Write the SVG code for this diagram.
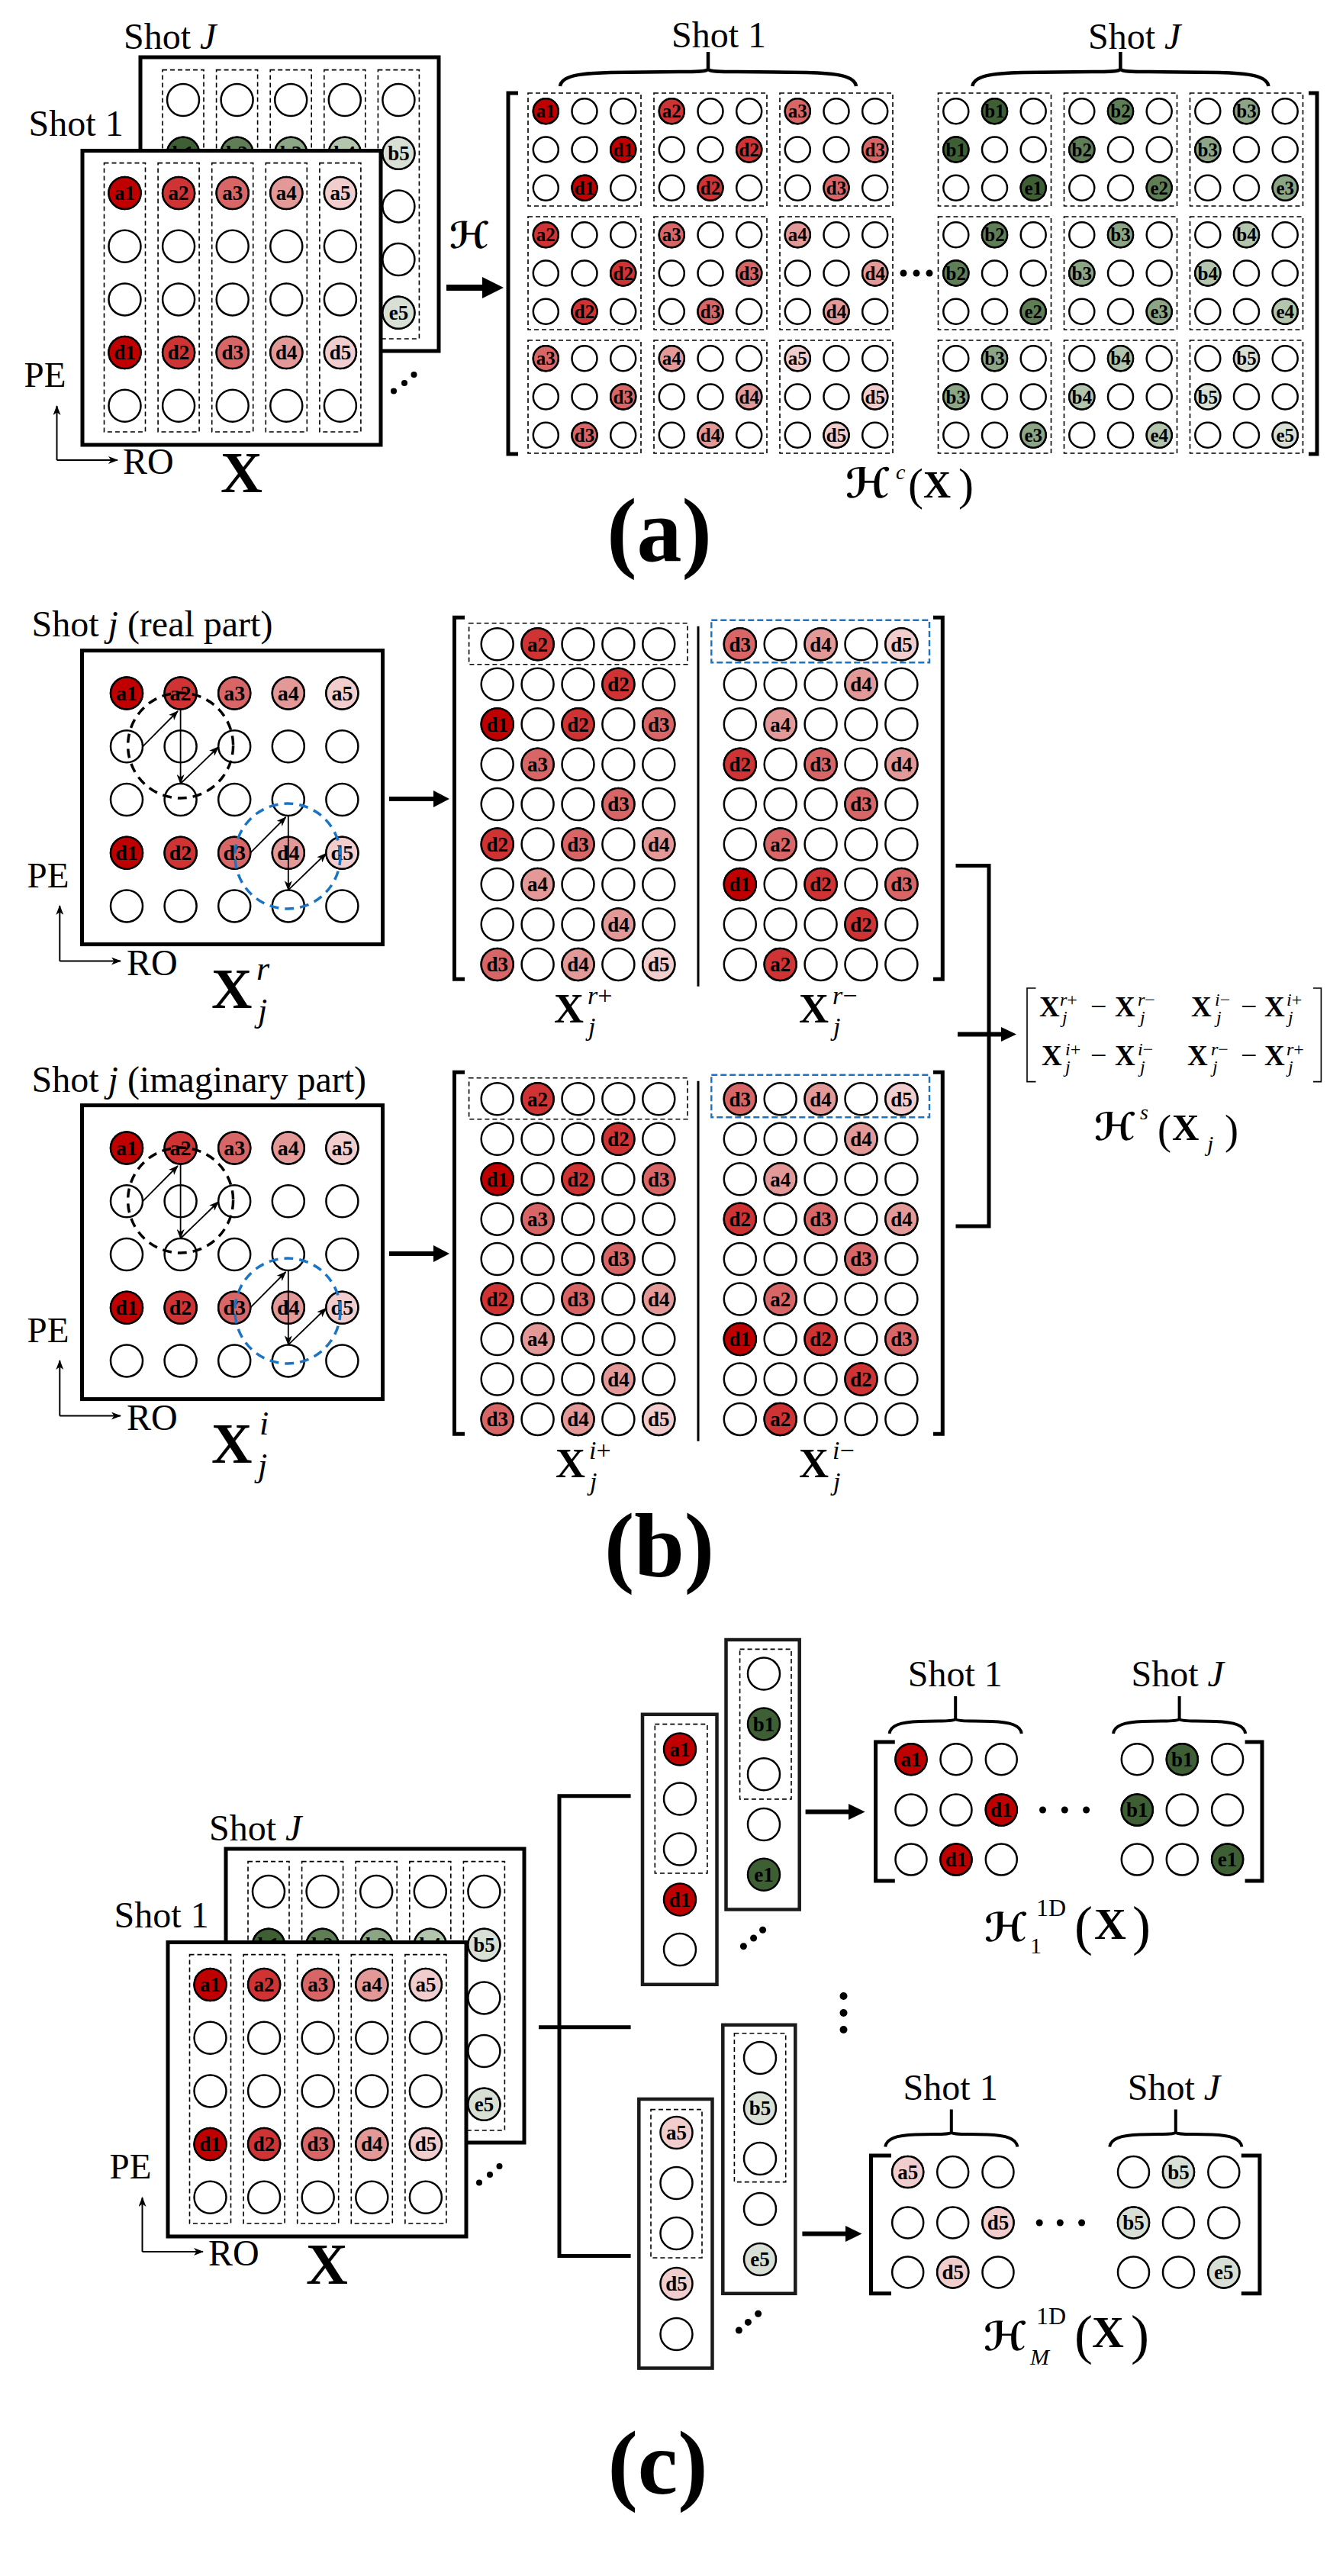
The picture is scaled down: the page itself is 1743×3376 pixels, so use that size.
<svg xmlns="http://www.w3.org/2000/svg" width="1743" height="3376" viewBox="0 0 1743 3376">
<style>
.box{fill:#fff;stroke:#000;stroke-width:5}
.cbox{fill:#fff;stroke:#1a1a1a;stroke-width:4.5}
.dash{fill:none;stroke:#000;stroke-width:1.6;stroke-dasharray:6 4}
.dashb{fill:none;stroke:#1a74c4;stroke-width:2.4;stroke-dasharray:8 4}
.c{fill:#fff;stroke:#000;stroke-width:2.5}
.k1{fill:#c00000}.k2{fill:#cf3333}.k3{fill:#d96666}.k4{fill:#e49999}.k5{fill:#f2cdcd}
.g1{fill:#3e5e33}.g2{fill:#5f7e56}.g3{fill:#8ca584}.g4{fill:#b3c5ac}.g5{fill:#d8dfd4}
.lb{font-family:"Liberation Serif","Times New Roman",serif;font-weight:bold;text-anchor:middle;fill:#000}
.s25{font-size:25px}.s27{font-size:27px}.s28{font-size:28px}
.t{font-family:"Liberation Serif","Times New Roman",serif;fill:#000}
.sh{font-family:"Liberation Serif","Times New Roman",serif;font-size:48px;fill:#000}
.it{font-style:italic}
.bd{font-weight:bold}
.cal{font-family:"DejaVu Serif","DejaVu Sans",serif;font-style:italic;font-weight:bold;fill:#000}
.ln{fill:none;stroke:#000}
.br{fill:none;stroke:#000;stroke-width:5}
.dot{fill:#000}
.pl{font-family:"Liberation Serif","Times New Roman",serif;font-weight:bold;font-size:118px;text-anchor:middle;fill:#000}
</style>
<defs>
<marker id="ah" viewBox="0 0 13 10" refX="12" refY="5" markerWidth="13" markerHeight="10" markerUnits="userSpaceOnUse" orient="auto"><path d="M0,0 L13,5 L0,10 L3.5,5 z" fill="#000"/></marker>
<g id="g55">
<circle class="c" cx="0" cy="0" r="21"/><circle class="c" cx="70.6" cy="0" r="21"/><circle class="c" cx="141.2" cy="0" r="21"/><circle class="c" cx="211.8" cy="0" r="21"/><circle class="c" cx="282.4" cy="0" r="21"/>
<circle class="c" cx="0" cy="69.7" r="21"/><circle class="c" cx="70.6" cy="69.7" r="21"/><circle class="c" cx="141.2" cy="69.7" r="21"/><circle class="c" cx="211.8" cy="69.7" r="21"/><circle class="c" cx="282.4" cy="69.7" r="21"/>
<circle class="c" cx="0" cy="139.4" r="21"/><circle class="c" cx="70.6" cy="139.4" r="21"/><circle class="c" cx="141.2" cy="139.4" r="21"/><circle class="c" cx="211.8" cy="139.4" r="21"/><circle class="c" cx="282.4" cy="139.4" r="21"/>
<circle class="c" cx="0" cy="209.1" r="21"/><circle class="c" cx="70.6" cy="209.1" r="21"/><circle class="c" cx="141.2" cy="209.1" r="21"/><circle class="c" cx="211.8" cy="209.1" r="21"/><circle class="c" cx="282.4" cy="209.1" r="21"/>
<circle class="c" cx="0" cy="278.8" r="21"/><circle class="c" cx="70.6" cy="278.8" r="21"/><circle class="c" cx="141.2" cy="278.8" r="21"/><circle class="c" cx="211.8" cy="278.8" r="21"/><circle class="c" cx="282.4" cy="278.8" r="21"/>
</g>
<g id="d55">
<rect class="dash" x="-27" y="-39.4" width="54" height="352.4"/><rect class="dash" x="43.6" y="-39.4" width="54" height="352.4"/><rect class="dash" x="114.2" y="-39.4" width="54" height="352.4"/><rect class="dash" x="184.8" y="-39.4" width="54" height="352.4"/><rect class="dash" x="255.4" y="-39.4" width="54" height="352.4"/>
</g>
<g id="blk">
<rect class="dash" x="0" y="0" width="148" height="148"/>
<circle class="c" cx="23.3" cy="23.7" r="16.5"/><circle class="c" cx="74" cy="23.7" r="16.5"/><circle class="c" cx="124.7" cy="23.7" r="16.5"/>
<circle class="c" cx="23.3" cy="74" r="16.5"/><circle class="c" cx="74" cy="74" r="16.5"/><circle class="c" cx="124.7" cy="74" r="16.5"/>
<circle class="c" cx="23.3" cy="124.3" r="16.5"/><circle class="c" cx="74" cy="124.3" r="16.5"/><circle class="c" cx="124.7" cy="124.3" r="16.5"/>
</g>
<g id="g95">
<circle class="c" cx="0" cy="0" r="21"/><circle class="c" cx="52.9" cy="0" r="21"/><circle class="c" cx="105.8" cy="0" r="21"/><circle class="c" cx="158.7" cy="0" r="21"/><circle class="c" cx="211.6" cy="0" r="21"/>
<circle class="c" cx="0" cy="52.45" r="21"/><circle class="c" cx="52.9" cy="52.45" r="21"/><circle class="c" cx="105.8" cy="52.45" r="21"/><circle class="c" cx="158.7" cy="52.45" r="21"/><circle class="c" cx="211.6" cy="52.45" r="21"/>
<circle class="c" cx="0" cy="104.9" r="21"/><circle class="c" cx="52.9" cy="104.9" r="21"/><circle class="c" cx="105.8" cy="104.9" r="21"/><circle class="c" cx="158.7" cy="104.9" r="21"/><circle class="c" cx="211.6" cy="104.9" r="21"/>
<circle class="c" cx="0" cy="157.35" r="21"/><circle class="c" cx="52.9" cy="157.35" r="21"/><circle class="c" cx="105.8" cy="157.35" r="21"/><circle class="c" cx="158.7" cy="157.35" r="21"/><circle class="c" cx="211.6" cy="157.35" r="21"/>
<circle class="c" cx="0" cy="209.8" r="21"/><circle class="c" cx="52.9" cy="209.8" r="21"/><circle class="c" cx="105.8" cy="209.8" r="21"/><circle class="c" cx="158.7" cy="209.8" r="21"/><circle class="c" cx="211.6" cy="209.8" r="21"/>
<circle class="c" cx="0" cy="262.25" r="21"/><circle class="c" cx="52.9" cy="262.25" r="21"/><circle class="c" cx="105.8" cy="262.25" r="21"/><circle class="c" cx="158.7" cy="262.25" r="21"/><circle class="c" cx="211.6" cy="262.25" r="21"/>
<circle class="c" cx="0" cy="314.7" r="21"/><circle class="c" cx="52.9" cy="314.7" r="21"/><circle class="c" cx="105.8" cy="314.7" r="21"/><circle class="c" cx="158.7" cy="314.7" r="21"/><circle class="c" cx="211.6" cy="314.7" r="21"/>
<circle class="c" cx="0" cy="367.15" r="21"/><circle class="c" cx="52.9" cy="367.15" r="21"/><circle class="c" cx="105.8" cy="367.15" r="21"/><circle class="c" cx="158.7" cy="367.15" r="21"/><circle class="c" cx="211.6" cy="367.15" r="21"/>
<circle class="c" cx="0" cy="419.6" r="21"/><circle class="c" cx="52.9" cy="419.6" r="21"/><circle class="c" cx="105.8" cy="419.6" r="21"/><circle class="c" cx="158.7" cy="419.6" r="21"/><circle class="c" cx="211.6" cy="419.6" r="21"/>
</g>
<g id="g33">
<circle class="c" cx="0" cy="0" r="20.5"/><circle class="c" cx="59" cy="0" r="20.5"/><circle class="c" cx="118.3" cy="0" r="20.5"/>
<circle class="c" cx="0" cy="66.3" r="20.5"/><circle class="c" cx="59" cy="66.3" r="20.5"/><circle class="c" cx="118.3" cy="66.3" r="20.5"/>
<circle class="c" cx="0" cy="131.3" r="20.5"/><circle class="c" cx="59" cy="131.3" r="20.5"/><circle class="c" cx="118.3" cy="131.3" r="20.5"/>
</g>
<path id="braceL" class="ln" stroke-width="4.5" d="M-194,45 C-192,31 -168,28 -128,27 L-38,26 C-13,26 -2,25.7 0,22.7 C2,25.7 13,26 38,26 L128,27 C168,28 192,31 194,45 M0,22.7 V0"/>
<path id="braceS" class="ln" stroke-width="4" d="M-86.6,49 C-85.2,38 -72.2,34 -47.2,33 L-22.2,32.5 C-8.2,32.5 -1.7,32 0,30 C1.7,32 8.2,32.5 22.2,32.5 L47.2,33 C72.2,34 85.2,38 86.6,49 M0,30 V0"/>
</defs>
<rect width="1743" height="3376" fill="#fff"/>

<!-- ===== (a) ===== -->
<g id="a-shotJ">
<text class="sh" x="162" y="64">Shot <tspan class="it">J</tspan></text>
<rect class="box" x="184" y="75" width="391" height="385"/>
<use href="#d55" x="240" y="131"/>
<use href="#g55" x="240" y="131"/>
<circle class="c g1" cx="240" cy="200.7" r="21"/><text class="lb s27" x="240" y="210">b1</text>
<circle class="c g2" cx="310.6" cy="200.7" r="21"/><text class="lb s27" x="310.6" y="210">b2</text>
<circle class="c g3" cx="381.2" cy="200.7" r="21"/><text class="lb s27" x="381.2" y="210">b3</text>
<circle class="c g4" cx="451.8" cy="200.7" r="21"/><text class="lb s27" x="451.8" y="210">b4</text>
<circle class="c g5" cx="522.4" cy="200.7" r="21"/><text class="lb s27" x="522.4" y="210">b5</text>
<circle class="c g1" cx="240" cy="409.8" r="21"/><text class="lb s27" x="240" y="419.1">e1</text>
<circle class="c g2" cx="310.6" cy="409.8" r="21"/><text class="lb s27" x="310.6" y="419.1">e2</text>
<circle class="c g3" cx="381.2" cy="409.8" r="21"/><text class="lb s27" x="381.2" y="419.1">e3</text>
<circle class="c g4" cx="451.8" cy="409.8" r="21"/><text class="lb s27" x="451.8" y="419.1">e4</text>
<circle class="c g5" cx="522.4" cy="409.8" r="21"/><text class="lb s27" x="522.4" y="419.1">e5</text>
</g>
<g id="a-shot1">
<text class="sh" x="37.6" y="177.5">Shot 1</text>
<rect class="box" x="108" y="197.5" width="391" height="385.5"/>
<use href="#d55" x="163.5" y="253"/>
<use href="#g55" x="163.5" y="253"/>
<circle class="c k1" cx="163.5" cy="253" r="21"/><text class="lb s27" x="163.5" y="262.3">a1</text>
<circle class="c k2" cx="234.1" cy="253" r="21"/><text class="lb s27" x="234.1" y="262.3">a2</text>
<circle class="c k3" cx="304.7" cy="253" r="21"/><text class="lb s27" x="304.7" y="262.3">a3</text>
<circle class="c k4" cx="375.3" cy="253" r="21"/><text class="lb s27" x="375.3" y="262.3">a4</text>
<circle class="c k5" cx="445.9" cy="253" r="21"/><text class="lb s27" x="445.9" y="262.3">a5</text>
<circle class="c k1" cx="163.5" cy="462.1" r="21"/><text class="lb s27" x="163.5" y="471.4">d1</text>
<circle class="c k2" cx="234.1" cy="462.1" r="21"/><text class="lb s27" x="234.1" y="471.4">d2</text>
<circle class="c k3" cx="304.7" cy="462.1" r="21"/><text class="lb s27" x="304.7" y="471.4">d3</text>
<circle class="c k4" cx="375.3" cy="462.1" r="21"/><text class="lb s27" x="375.3" y="471.4">d4</text>
<circle class="c k5" cx="445.9" cy="462.1" r="21"/><text class="lb s27" x="445.9" y="471.4">d5</text>
</g>
<g id="a-axes">
<circle class="dot" cx="516" cy="512.5" r="4"/><circle class="dot" cx="530" cy="502" r="4"/><circle class="dot" cx="542.5" cy="491" r="4"/>
<text class="t" x="31.6" y="507" font-size="47">PE</text>
<path class="ln" stroke-width="2" d="M74.5,603 V532" marker-end="url(#ah)"/>
<path class="ln" stroke-width="2" d="M74.5,603 H154" marker-end="url(#ah)"/>
<text class="t" x="161" y="621" font-size="48">RO</text>
<text class="t bd" x="289" y="645" font-size="76">X</text>
</g>
<g id="a-matrix">
<text class="sh" x="880" y="62">Shot 1</text>
<text class="sh" x="1426" y="64">Shot <tspan class="it">J</tspan></text>
<use href="#braceL" x="928" y="68"/>
<use href="#braceL" x="1468.4" y="68"/>
<path class="br" d="M679,122 H666 V595 H679"/>
<path class="br" d="M1715,122 H1726 V595 H1715"/>
<use href="#blk" x="692" y="122"/><use href="#blk" x="857" y="122"/><use href="#blk" x="1022" y="122"/>
<use href="#blk" x="692" y="284"/><use href="#blk" x="857" y="284"/><use href="#blk" x="1022" y="284"/>
<use href="#blk" x="692" y="446"/><use href="#blk" x="857" y="446"/><use href="#blk" x="1022" y="446"/>
<use href="#blk" x="1229.5" y="122"/><use href="#blk" x="1394.5" y="122"/><use href="#blk" x="1559.5" y="122"/>
<use href="#blk" x="1229.5" y="284"/><use href="#blk" x="1394.5" y="284"/><use href="#blk" x="1559.5" y="284"/>
<use href="#blk" x="1229.5" y="446"/><use href="#blk" x="1394.5" y="446"/><use href="#blk" x="1559.5" y="446"/>
<circle class="c k1" cx="715.3" cy="145.7" r="16.5"/><text class="lb s25" x="715.3" y="154.3">a1</text>
<circle class="c k1" cx="816.7" cy="196" r="16.5"/><text class="lb s25" x="816.7" y="204.6">d1</text>
<circle class="c k1" cx="766" cy="246.3" r="16.5"/><text class="lb s25" x="766" y="254.9">d1</text>
<circle class="c k2" cx="880.3" cy="145.7" r="16.5"/><text class="lb s25" x="880.3" y="154.3">a2</text>
<circle class="c k2" cx="981.7" cy="196" r="16.5"/><text class="lb s25" x="981.7" y="204.6">d2</text>
<circle class="c k2" cx="931" cy="246.3" r="16.5"/><text class="lb s25" x="931" y="254.9">d2</text>
<circle class="c k3" cx="1045.3" cy="145.7" r="16.5"/><text class="lb s25" x="1045.3" y="154.3">a3</text>
<circle class="c k3" cx="1146.7" cy="196" r="16.5"/><text class="lb s25" x="1146.7" y="204.6">d3</text>
<circle class="c k3" cx="1096" cy="246.3" r="16.5"/><text class="lb s25" x="1096" y="254.9">d3</text>
<circle class="c k2" cx="715.3" cy="307.7" r="16.5"/><text class="lb s25" x="715.3" y="316.3">a2</text>
<circle class="c k2" cx="816.7" cy="358" r="16.5"/><text class="lb s25" x="816.7" y="366.6">d2</text>
<circle class="c k2" cx="766" cy="408.3" r="16.5"/><text class="lb s25" x="766" y="416.9">d2</text>
<circle class="c k3" cx="880.3" cy="307.7" r="16.5"/><text class="lb s25" x="880.3" y="316.3">a3</text>
<circle class="c k3" cx="981.7" cy="358" r="16.5"/><text class="lb s25" x="981.7" y="366.6">d3</text>
<circle class="c k3" cx="931" cy="408.3" r="16.5"/><text class="lb s25" x="931" y="416.9">d3</text>
<circle class="c k4" cx="1045.3" cy="307.7" r="16.5"/><text class="lb s25" x="1045.3" y="316.3">a4</text>
<circle class="c k4" cx="1146.7" cy="358" r="16.5"/><text class="lb s25" x="1146.7" y="366.6">d4</text>
<circle class="c k4" cx="1096" cy="408.3" r="16.5"/><text class="lb s25" x="1096" y="416.9">d4</text>
<circle class="c k3" cx="715.3" cy="469.7" r="16.5"/><text class="lb s25" x="715.3" y="478.3">a3</text>
<circle class="c k3" cx="816.7" cy="520" r="16.5"/><text class="lb s25" x="816.7" y="528.6">d3</text>
<circle class="c k3" cx="766" cy="570.3" r="16.5"/><text class="lb s25" x="766" y="578.9">d3</text>
<circle class="c k4" cx="880.3" cy="469.7" r="16.5"/><text class="lb s25" x="880.3" y="478.3">a4</text>
<circle class="c k4" cx="981.7" cy="520" r="16.5"/><text class="lb s25" x="981.7" y="528.6">d4</text>
<circle class="c k4" cx="931" cy="570.3" r="16.5"/><text class="lb s25" x="931" y="578.9">d4</text>
<circle class="c k5" cx="1045.3" cy="469.7" r="16.5"/><text class="lb s25" x="1045.3" y="478.3">a5</text>
<circle class="c k5" cx="1146.7" cy="520" r="16.5"/><text class="lb s25" x="1146.7" y="528.6">d5</text>
<circle class="c k5" cx="1096" cy="570.3" r="16.5"/><text class="lb s25" x="1096" y="578.9">d5</text>
<circle class="c g1" cx="1303.5" cy="145.7" r="16.5"/><text class="lb s25" x="1303.5" y="154.3">b1</text>
<circle class="c g1" cx="1252.8" cy="196" r="16.5"/><text class="lb s25" x="1252.8" y="204.6">b1</text>
<circle class="c g1" cx="1354.2" cy="246.3" r="16.5"/><text class="lb s25" x="1354.2" y="254.9">e1</text>
<circle class="c g2" cx="1468.5" cy="145.7" r="16.5"/><text class="lb s25" x="1468.5" y="154.3">b2</text>
<circle class="c g2" cx="1417.8" cy="196" r="16.5"/><text class="lb s25" x="1417.8" y="204.6">b2</text>
<circle class="c g2" cx="1519.2" cy="246.3" r="16.5"/><text class="lb s25" x="1519.2" y="254.9">e2</text>
<circle class="c g3" cx="1633.5" cy="145.7" r="16.5"/><text class="lb s25" x="1633.5" y="154.3">b3</text>
<circle class="c g3" cx="1582.8" cy="196" r="16.5"/><text class="lb s25" x="1582.8" y="204.6">b3</text>
<circle class="c g3" cx="1684.2" cy="246.3" r="16.5"/><text class="lb s25" x="1684.2" y="254.9">e3</text>
<circle class="c g2" cx="1303.5" cy="307.7" r="16.5"/><text class="lb s25" x="1303.5" y="316.3">b2</text>
<circle class="c g2" cx="1252.8" cy="358" r="16.5"/><text class="lb s25" x="1252.8" y="366.6">b2</text>
<circle class="c g2" cx="1354.2" cy="408.3" r="16.5"/><text class="lb s25" x="1354.2" y="416.9">e2</text>
<circle class="c g3" cx="1468.5" cy="307.7" r="16.5"/><text class="lb s25" x="1468.5" y="316.3">b3</text>
<circle class="c g3" cx="1417.8" cy="358" r="16.5"/><text class="lb s25" x="1417.8" y="366.6">b3</text>
<circle class="c g3" cx="1519.2" cy="408.3" r="16.5"/><text class="lb s25" x="1519.2" y="416.9">e3</text>
<circle class="c g4" cx="1633.5" cy="307.7" r="16.5"/><text class="lb s25" x="1633.5" y="316.3">b4</text>
<circle class="c g4" cx="1582.8" cy="358" r="16.5"/><text class="lb s25" x="1582.8" y="366.6">b4</text>
<circle class="c g4" cx="1684.2" cy="408.3" r="16.5"/><text class="lb s25" x="1684.2" y="416.9">e4</text>
<circle class="c g3" cx="1303.5" cy="469.7" r="16.5"/><text class="lb s25" x="1303.5" y="478.3">b3</text>
<circle class="c g3" cx="1252.8" cy="520" r="16.5"/><text class="lb s25" x="1252.8" y="528.6">b3</text>
<circle class="c g3" cx="1354.2" cy="570.3" r="16.5"/><text class="lb s25" x="1354.2" y="578.9">e3</text>
<circle class="c g4" cx="1468.5" cy="469.7" r="16.5"/><text class="lb s25" x="1468.5" y="478.3">b4</text>
<circle class="c g4" cx="1417.8" cy="520" r="16.5"/><text class="lb s25" x="1417.8" y="528.6">b4</text>
<circle class="c g4" cx="1519.2" cy="570.3" r="16.5"/><text class="lb s25" x="1519.2" y="578.9">e4</text>
<circle class="c g5" cx="1633.5" cy="469.7" r="16.5"/><text class="lb s25" x="1633.5" y="478.3">b5</text>
<circle class="c g5" cx="1582.8" cy="520" r="16.5"/><text class="lb s25" x="1582.8" y="528.6">b5</text>
<circle class="c g5" cx="1684.2" cy="570.3" r="16.5"/><text class="lb s25" x="1684.2" y="578.9">e5</text>
<circle class="dot" cx="1184" cy="358" r="4.5"/><circle class="dot" cx="1201" cy="358" r="4.5"/><circle class="dot" cx="1218" cy="358" r="4.5"/>
<text class="cal" x="1108" y="652" font-size="54">ℋ</text>
<text class="t it" x="1174" y="628" font-size="28">c</text>
<text class="t" x="1190" y="655" font-size="60">(</text>
<text class="t bd" x="1210" y="652" font-size="50">X</text>
<text class="t" x="1256" y="655" font-size="60">)</text>
</g>
<text class="pl" x="864" y="735">(a)</text>

<!-- ===== (b) ===== -->
<g id="b-real">
<text class="sh" x="41.5" y="833.7">Shot <tspan class="it">j</tspan> (real part)</text>
<rect class="box" x="107.5" y="852.6" width="394" height="385"/>
<use href="#g55" x="166" y="908.6"/>
<circle class="c k1" cx="166" cy="908.6" r="21"/><text class="lb s28" x="166" y="918.3">a1</text>
<circle class="c k2" cx="236.6" cy="908.6" r="21"/><text class="lb s28" x="236.6" y="918.3">a2</text>
<circle class="c k3" cx="307.2" cy="908.6" r="21"/><text class="lb s28" x="307.2" y="918.3">a3</text>
<circle class="c k4" cx="377.8" cy="908.6" r="21"/><text class="lb s28" x="377.8" y="918.3">a4</text>
<circle class="c k5" cx="448.4" cy="908.6" r="21"/><text class="lb s28" x="448.4" y="918.3">a5</text>
<circle class="c k1" cx="166" cy="1117.7" r="21"/><text class="lb s28" x="166" y="1127.4">d1</text>
<circle class="c k2" cx="236.6" cy="1117.7" r="21"/><text class="lb s28" x="236.6" y="1127.4">d2</text>
<circle class="c k3" cx="307.2" cy="1117.7" r="21"/><text class="lb s28" x="307.2" y="1127.4">d3</text>
<circle class="c k4" cx="377.8" cy="1117.7" r="21"/><text class="lb s28" x="377.8" y="1127.4">d4</text>
<circle class="c k5" cx="448.4" cy="1117.7" r="21"/><text class="lb s28" x="448.4" y="1127.4">d5</text>
<circle cx="236.6" cy="977" r="69" fill="none" stroke="#000" stroke-width="3.5" stroke-dasharray="12 8"/>
<circle cx="377" cy="1122" r="69" fill="none" stroke="#1a74c4" stroke-width="3.5" stroke-dasharray="12 8"/>
<path class="ln" stroke-width="1.8" d="M187,978.3 L233,932" marker-end="url(#ah)"/>
<path class="ln" stroke-width="1.8" d="M236.6,929.6 V1027" marker-end="url(#ah)"/>
<path class="ln" stroke-width="1.8" d="M236.6,1027 L286.2,979" marker-end="url(#ah)"/>
<path class="ln" stroke-width="1.8" d="M328.2,1117.7 L374.5,1071" marker-end="url(#ah)"/>
<path class="ln" stroke-width="1.8" d="M377.8,1069 V1166.4" marker-end="url(#ah)"/>
<path class="ln" stroke-width="1.8" d="M377.8,1166.4 L427.4,1118.5" marker-end="url(#ah)"/>
<text class="t" x="35.6" y="1162.8" font-size="47">PE</text>
<path class="ln" stroke-width="2" d="M78.3,1259.6 V1187" marker-end="url(#ah)"/>
<path class="ln" stroke-width="2" d="M78.3,1259.6 H158" marker-end="url(#ah)"/>
<text class="t" x="166" y="1277.7" font-size="48">RO</text>
<text class="t bd" x="277" y="1320.6" font-size="74">X</text>
<text class="t it" x="336" y="1284" font-size="44">r</text>
<text class="t it" x="338" y="1339" font-size="44">j</text>
</g>
<g id="b-imag">
<text class="sh" x="41.5" y="1430.6">Shot <tspan class="it">j</tspan> (imaginary part)</text>
<rect class="box" x="107.5" y="1448.6" width="394" height="385"/>
<use href="#g55" x="166" y="1504.6"/>
<circle class="c k1" cx="166" cy="1504.6" r="21"/><text class="lb s28" x="166" y="1514.3">a1</text>
<circle class="c k2" cx="236.6" cy="1504.6" r="21"/><text class="lb s28" x="236.6" y="1514.3">a2</text>
<circle class="c k3" cx="307.2" cy="1504.6" r="21"/><text class="lb s28" x="307.2" y="1514.3">a3</text>
<circle class="c k4" cx="377.8" cy="1504.6" r="21"/><text class="lb s28" x="377.8" y="1514.3">a4</text>
<circle class="c k5" cx="448.4" cy="1504.6" r="21"/><text class="lb s28" x="448.4" y="1514.3">a5</text>
<circle class="c k1" cx="166" cy="1713.7" r="21"/><text class="lb s28" x="166" y="1723.4">d1</text>
<circle class="c k2" cx="236.6" cy="1713.7" r="21"/><text class="lb s28" x="236.6" y="1723.4">d2</text>
<circle class="c k3" cx="307.2" cy="1713.7" r="21"/><text class="lb s28" x="307.2" y="1723.4">d3</text>
<circle class="c k4" cx="377.8" cy="1713.7" r="21"/><text class="lb s28" x="377.8" y="1723.4">d4</text>
<circle class="c k5" cx="448.4" cy="1713.7" r="21"/><text class="lb s28" x="448.4" y="1723.4">d5</text>
<circle cx="236.6" cy="1573" r="69" fill="none" stroke="#000" stroke-width="3.5" stroke-dasharray="12 8"/>
<circle cx="377" cy="1718" r="69" fill="none" stroke="#1a74c4" stroke-width="3.5" stroke-dasharray="12 8"/>
<path class="ln" stroke-width="1.8" d="M187,1574.3 L233,1528" marker-end="url(#ah)"/>
<path class="ln" stroke-width="1.8" d="M236.6,1525.6 V1623" marker-end="url(#ah)"/>
<path class="ln" stroke-width="1.8" d="M236.6,1623 L286.2,1575" marker-end="url(#ah)"/>
<path class="ln" stroke-width="1.8" d="M328.2,1713.7 L374.5,1667" marker-end="url(#ah)"/>
<path class="ln" stroke-width="1.8" d="M377.8,1665 V1762.4" marker-end="url(#ah)"/>
<path class="ln" stroke-width="1.8" d="M377.8,1762.4 L427.4,1714.5" marker-end="url(#ah)"/>
<text class="t" x="35.6" y="1758.8" font-size="47">PE</text>
<path class="ln" stroke-width="2" d="M78.3,1855.6 V1783" marker-end="url(#ah)"/>
<path class="ln" stroke-width="2" d="M78.3,1855.6 H158" marker-end="url(#ah)"/>
<text class="t" x="166" y="1873.7" font-size="48">RO</text>
<text class="t bd" x="277" y="1916.6" font-size="74">X</text>
<text class="t it" x="340" y="1880" font-size="44">i</text>
<text class="t it" x="338" y="1935" font-size="44">j</text>
</g>
<g id="b-mat-real">
<path class="br" d="M609,809.3 H595.5 V1283.3 H609"/>
<path class="br" d="M1223,809.3 H1235.3 V1283.3 H1223"/>
<path class="ln" stroke-width="3" d="M915,820.7 V1292.7"/>
<rect class="dash" x="614.6" y="816.7" width="286.4" height="54"/>
<rect class="dashb" x="932.3" y="812.7" width="285.7" height="55.6"/>
<use href="#g95" x="651.7" y="844.3"/>
<use href="#g95" x="969.8" y="844.3"/>
<circle class="c k2" cx="704.6" cy="844.3" r="21"/><text class="lb s27" x="704.6" y="853.6">a2</text>
<circle class="c k2" cx="810.4" cy="896.75" r="21"/><text class="lb s27" x="810.4" y="906.05">d2</text>
<circle class="c k1" cx="651.7" cy="949.2" r="21"/><text class="lb s27" x="651.7" y="958.5">d1</text>
<circle class="c k2" cx="757.5" cy="949.2" r="21"/><text class="lb s27" x="757.5" y="958.5">d2</text>
<circle class="c k3" cx="863.3" cy="949.2" r="21"/><text class="lb s27" x="863.3" y="958.5">d3</text>
<circle class="c k3" cx="704.6" cy="1001.65" r="21"/><text class="lb s27" x="704.6" y="1010.95">a3</text>
<circle class="c k3" cx="810.4" cy="1054.1" r="21"/><text class="lb s27" x="810.4" y="1063.4">d3</text>
<circle class="c k2" cx="651.7" cy="1106.55" r="21"/><text class="lb s27" x="651.7" y="1115.85">d2</text>
<circle class="c k3" cx="757.5" cy="1106.55" r="21"/><text class="lb s27" x="757.5" y="1115.85">d3</text>
<circle class="c k4" cx="863.3" cy="1106.55" r="21"/><text class="lb s27" x="863.3" y="1115.85">d4</text>
<circle class="c k4" cx="704.6" cy="1159" r="21"/><text class="lb s27" x="704.6" y="1168.3">a4</text>
<circle class="c k4" cx="810.4" cy="1211.45" r="21"/><text class="lb s27" x="810.4" y="1220.75">d4</text>
<circle class="c k3" cx="651.7" cy="1263.9" r="21"/><text class="lb s27" x="651.7" y="1273.2">d3</text>
<circle class="c k4" cx="757.5" cy="1263.9" r="21"/><text class="lb s27" x="757.5" y="1273.2">d4</text>
<circle class="c k5" cx="863.3" cy="1263.9" r="21"/><text class="lb s27" x="863.3" y="1273.2">d5</text>
<circle class="c k3" cx="969.8" cy="844.3" r="21"/><text class="lb s27" x="969.8" y="853.6">d3</text>
<circle class="c k4" cx="1075.6" cy="844.3" r="21"/><text class="lb s27" x="1075.6" y="853.6">d4</text>
<circle class="c k5" cx="1181.4" cy="844.3" r="21"/><text class="lb s27" x="1181.4" y="853.6">d5</text>
<circle class="c k4" cx="1128.5" cy="896.75" r="21"/><text class="lb s27" x="1128.5" y="906.05">d4</text>
<circle class="c k4" cx="1022.7" cy="949.2" r="21"/><text class="lb s27" x="1022.7" y="958.5">a4</text>
<circle class="c k2" cx="969.8" cy="1001.65" r="21"/><text class="lb s27" x="969.8" y="1010.95">d2</text>
<circle class="c k3" cx="1075.6" cy="1001.65" r="21"/><text class="lb s27" x="1075.6" y="1010.95">d3</text>
<circle class="c k4" cx="1181.4" cy="1001.65" r="21"/><text class="lb s27" x="1181.4" y="1010.95">d4</text>
<circle class="c k3" cx="1128.5" cy="1054.1" r="21"/><text class="lb s27" x="1128.5" y="1063.4">d3</text>
<circle class="c k3" cx="1022.7" cy="1106.55" r="21"/><text class="lb s27" x="1022.7" y="1115.85">a2</text>
<circle class="c k1" cx="969.8" cy="1159" r="21"/><text class="lb s27" x="969.8" y="1168.3">d1</text>
<circle class="c k2" cx="1075.6" cy="1159" r="21"/><text class="lb s27" x="1075.6" y="1168.3">d2</text>
<circle class="c k3" cx="1181.4" cy="1159" r="21"/><text class="lb s27" x="1181.4" y="1168.3">d3</text>
<circle class="c k2" cx="1128.5" cy="1211.45" r="21"/><text class="lb s27" x="1128.5" y="1220.75">d2</text>
<circle class="c k2" cx="1022.7" cy="1263.9" r="21"/><text class="lb s27" x="1022.7" y="1273.2">a2</text>
<text class="t bd" x="726" y="1340" font-size="54">X</text>
<text class="t" x="770" y="1316" font-size="34"><tspan class="it">r</tspan>+</text>
<text class="t it" x="771" y="1357" font-size="34">j</text>
<text class="t bd" x="1047" y="1340" font-size="54">X</text>
<text class="t" x="1091" y="1316" font-size="34"><tspan class="it">r</tspan>−</text>
<text class="t it" x="1092" y="1357" font-size="34">j</text>
</g>
<g id="b-mat-imag">
<path class="br" d="M609,1405.3 H595.5 V1879.3 H609"/>
<path class="br" d="M1223,1405.3 H1235.3 V1879.3 H1223"/>
<path class="ln" stroke-width="3" d="M915,1416.7 V1888.7"/>
<rect class="dash" x="614.6" y="1412.7" width="286.4" height="54"/>
<rect class="dashb" x="932.3" y="1408.7" width="285.7" height="55.6"/>
<use href="#g95" x="651.7" y="1440.3"/>
<use href="#g95" x="969.8" y="1440.3"/>
<circle class="c k2" cx="704.6" cy="1440.3" r="21"/><text class="lb s27" x="704.6" y="1449.6">a2</text>
<circle class="c k2" cx="810.4" cy="1492.75" r="21"/><text class="lb s27" x="810.4" y="1502.05">d2</text>
<circle class="c k1" cx="651.7" cy="1545.2" r="21"/><text class="lb s27" x="651.7" y="1554.5">d1</text>
<circle class="c k2" cx="757.5" cy="1545.2" r="21"/><text class="lb s27" x="757.5" y="1554.5">d2</text>
<circle class="c k3" cx="863.3" cy="1545.2" r="21"/><text class="lb s27" x="863.3" y="1554.5">d3</text>
<circle class="c k3" cx="704.6" cy="1597.65" r="21"/><text class="lb s27" x="704.6" y="1606.95">a3</text>
<circle class="c k3" cx="810.4" cy="1650.1" r="21"/><text class="lb s27" x="810.4" y="1659.4">d3</text>
<circle class="c k2" cx="651.7" cy="1702.55" r="21"/><text class="lb s27" x="651.7" y="1711.85">d2</text>
<circle class="c k3" cx="757.5" cy="1702.55" r="21"/><text class="lb s27" x="757.5" y="1711.85">d3</text>
<circle class="c k4" cx="863.3" cy="1702.55" r="21"/><text class="lb s27" x="863.3" y="1711.85">d4</text>
<circle class="c k4" cx="704.6" cy="1755" r="21"/><text class="lb s27" x="704.6" y="1764.3">a4</text>
<circle class="c k4" cx="810.4" cy="1807.45" r="21"/><text class="lb s27" x="810.4" y="1816.75">d4</text>
<circle class="c k3" cx="651.7" cy="1859.9" r="21"/><text class="lb s27" x="651.7" y="1869.2">d3</text>
<circle class="c k4" cx="757.5" cy="1859.9" r="21"/><text class="lb s27" x="757.5" y="1869.2">d4</text>
<circle class="c k5" cx="863.3" cy="1859.9" r="21"/><text class="lb s27" x="863.3" y="1869.2">d5</text>
<circle class="c k3" cx="969.8" cy="1440.3" r="21"/><text class="lb s27" x="969.8" y="1449.6">d3</text>
<circle class="c k4" cx="1075.6" cy="1440.3" r="21"/><text class="lb s27" x="1075.6" y="1449.6">d4</text>
<circle class="c k5" cx="1181.4" cy="1440.3" r="21"/><text class="lb s27" x="1181.4" y="1449.6">d5</text>
<circle class="c k4" cx="1128.5" cy="1492.75" r="21"/><text class="lb s27" x="1128.5" y="1502.05">d4</text>
<circle class="c k4" cx="1022.7" cy="1545.2" r="21"/><text class="lb s27" x="1022.7" y="1554.5">a4</text>
<circle class="c k2" cx="969.8" cy="1597.65" r="21"/><text class="lb s27" x="969.8" y="1606.95">d2</text>
<circle class="c k3" cx="1075.6" cy="1597.65" r="21"/><text class="lb s27" x="1075.6" y="1606.95">d3</text>
<circle class="c k4" cx="1181.4" cy="1597.65" r="21"/><text class="lb s27" x="1181.4" y="1606.95">d4</text>
<circle class="c k3" cx="1128.5" cy="1650.1" r="21"/><text class="lb s27" x="1128.5" y="1659.4">d3</text>
<circle class="c k3" cx="1022.7" cy="1702.55" r="21"/><text class="lb s27" x="1022.7" y="1711.85">a2</text>
<circle class="c k1" cx="969.8" cy="1755" r="21"/><text class="lb s27" x="969.8" y="1764.3">d1</text>
<circle class="c k2" cx="1075.6" cy="1755" r="21"/><text class="lb s27" x="1075.6" y="1764.3">d2</text>
<circle class="c k3" cx="1181.4" cy="1755" r="21"/><text class="lb s27" x="1181.4" y="1764.3">d3</text>
<circle class="c k2" cx="1128.5" cy="1807.45" r="21"/><text class="lb s27" x="1128.5" y="1816.75">d2</text>
<circle class="c k2" cx="1022.7" cy="1859.9" r="21"/><text class="lb s27" x="1022.7" y="1869.2">a2</text>
<text class="t bd" x="728" y="1936" font-size="54">X</text>
<text class="t" x="772" y="1912" font-size="34"><tspan class="it">i</tspan>+</text>
<text class="t it" x="773" y="1953" font-size="34">j</text>
<text class="t bd" x="1047" y="1936" font-size="54">X</text>
<text class="t" x="1091" y="1912" font-size="34"><tspan class="it">i</tspan>−</text>
<text class="t it" x="1092" y="1953" font-size="34">j</text>
</g>
<g id="b-result">
<path class="ln" stroke-width="1.6" d="M1357.5,1295 H1346 V1417.6 H1357.5"/>
<path class="ln" stroke-width="1.6" d="M1721,1295 H1731.4 V1417.6 H1721"/>
<text class="t bd" x="1362" y="1331.5" font-size="37">X</text>
<text class="t" x="1389" y="1318" font-size="24"><tspan class="it">r</tspan>+</text>
<text class="t it" x="1392" y="1341" font-size="24">j</text>
<text class="t" x="1429" y="1331.5" font-size="38">−</text>
<text class="t bd" x="1461" y="1331.5" font-size="37">X</text>
<text class="t" x="1491" y="1318" font-size="24"><tspan class="it">r</tspan>−</text>
<text class="t it" x="1494" y="1341" font-size="24">j</text>
<text class="t bd" x="1561" y="1331.5" font-size="37">X</text>
<text class="t" x="1592" y="1318" font-size="24"><tspan class="it">i</tspan>−</text>
<text class="t it" x="1594" y="1341" font-size="24">j</text>
<text class="t" x="1626" y="1331.5" font-size="38">−</text>
<text class="t bd" x="1657" y="1331.5" font-size="37">X</text>
<text class="t" x="1686" y="1318" font-size="24"><tspan class="it">i</tspan>+</text>
<text class="t it" x="1688" y="1341" font-size="24">j</text>
<text class="t bd" x="1365" y="1395.5" font-size="37">X</text>
<text class="t" x="1396" y="1383" font-size="24"><tspan class="it">i</tspan>+</text>
<text class="t it" x="1396" y="1406" font-size="24">j</text>
<text class="t" x="1429" y="1395.5" font-size="38">−</text>
<text class="t bd" x="1461" y="1395.5" font-size="37">X</text>
<text class="t" x="1491" y="1383" font-size="24"><tspan class="it">i</tspan>−</text>
<text class="t it" x="1494" y="1406" font-size="24">j</text>
<text class="t bd" x="1556" y="1395.5" font-size="37">X</text>
<text class="t" x="1587" y="1383" font-size="24"><tspan class="it">r</tspan>−</text>
<text class="t it" x="1589" y="1406" font-size="24">j</text>
<text class="t" x="1626" y="1395.5" font-size="38">−</text>
<text class="t bd" x="1657" y="1395.5" font-size="37">X</text>
<text class="t" x="1686" y="1383" font-size="24"><tspan class="it">r</tspan>+</text>
<text class="t it" x="1688" y="1406" font-size="24">j</text>
<text class="cal" x="1434" y="1494" font-size="50">ℋ</text>
<text class="t it" x="1494" y="1467" font-size="28">s</text>
<text class="t" x="1517" y="1499" font-size="54">(</text>
<text class="t bd" x="1536" y="1494" font-size="49">X</text>
<text class="t it" x="1582" y="1509" font-size="30">j</text>
<text class="t" x="1605" y="1499" font-size="54">)</text>
</g>
<text class="pl" x="864" y="2065">(b)</text>

<!-- ===== (c) ===== -->
<g id="c-shotJ" transform="translate(112,2348)">
<text class="sh" x="162" y="64">Shot <tspan class="it">J</tspan></text>
<rect class="box" x="184" y="75" width="391" height="385"/>
<use href="#d55" x="240" y="131"/>
<use href="#g55" x="240" y="131"/>
<circle class="c g1" cx="240" cy="200.7" r="21"/><text class="lb s27" x="240" y="210">b1</text>
<circle class="c g2" cx="310.6" cy="200.7" r="21"/><text class="lb s27" x="310.6" y="210">b2</text>
<circle class="c g3" cx="381.2" cy="200.7" r="21"/><text class="lb s27" x="381.2" y="210">b3</text>
<circle class="c g4" cx="451.8" cy="200.7" r="21"/><text class="lb s27" x="451.8" y="210">b4</text>
<circle class="c g5" cx="522.4" cy="200.7" r="21"/><text class="lb s27" x="522.4" y="210">b5</text>
<circle class="c g1" cx="240" cy="409.8" r="21"/><text class="lb s27" x="240" y="419.1">e1</text>
<circle class="c g2" cx="310.6" cy="409.8" r="21"/><text class="lb s27" x="310.6" y="419.1">e2</text>
<circle class="c g3" cx="381.2" cy="409.8" r="21"/><text class="lb s27" x="381.2" y="419.1">e3</text>
<circle class="c g4" cx="451.8" cy="409.8" r="21"/><text class="lb s27" x="451.8" y="419.1">e4</text>
<circle class="c g5" cx="522.4" cy="409.8" r="21"/><text class="lb s27" x="522.4" y="419.1">e5</text>
</g>
<g id="c-shot1" transform="translate(112,2348)">
<text class="sh" x="37.6" y="177.5">Shot 1</text>
<rect class="box" x="108" y="197.5" width="391" height="385.5"/>
<use href="#d55" x="163.5" y="253"/>
<use href="#g55" x="163.5" y="253"/>
<circle class="c k1" cx="163.5" cy="253" r="21"/><text class="lb s27" x="163.5" y="262.3">a1</text>
<circle class="c k2" cx="234.1" cy="253" r="21"/><text class="lb s27" x="234.1" y="262.3">a2</text>
<circle class="c k3" cx="304.7" cy="253" r="21"/><text class="lb s27" x="304.7" y="262.3">a3</text>
<circle class="c k4" cx="375.3" cy="253" r="21"/><text class="lb s27" x="375.3" y="262.3">a4</text>
<circle class="c k5" cx="445.9" cy="253" r="21"/><text class="lb s27" x="445.9" y="262.3">a5</text>
<circle class="c k1" cx="163.5" cy="462.1" r="21"/><text class="lb s27" x="163.5" y="471.4">d1</text>
<circle class="c k2" cx="234.1" cy="462.1" r="21"/><text class="lb s27" x="234.1" y="471.4">d2</text>
<circle class="c k3" cx="304.7" cy="462.1" r="21"/><text class="lb s27" x="304.7" y="471.4">d3</text>
<circle class="c k4" cx="375.3" cy="462.1" r="21"/><text class="lb s27" x="375.3" y="471.4">d4</text>
<circle class="c k5" cx="445.9" cy="462.1" r="21"/><text class="lb s27" x="445.9" y="471.4">d5</text>
</g>
<g id="c-axes" transform="translate(112,2348)">
<circle class="dot" cx="516" cy="512.5" r="4"/><circle class="dot" cx="530" cy="502" r="4"/><circle class="dot" cx="542.5" cy="491" r="4"/>
<text class="t" x="31.6" y="507" font-size="47">PE</text>
<path class="ln" stroke-width="2" d="M74.5,603 V532" marker-end="url(#ah)"/>
<path class="ln" stroke-width="2" d="M74.5,603 H154" marker-end="url(#ah)"/>
<text class="t" x="161" y="621" font-size="48">RO</text>
<text class="t bd" x="289" y="645" font-size="76">X</text>
</g>
<g id="c-col-a1">
<rect class="cbox" x="842" y="2246.8" width="97.5" height="354"/>
<rect class="dash" x="858.3" y="2259.6" width="68.6" height="195.4"/>
<circle class="c k1" cx="891" cy="2292.5" r="21"/><text class="lb s27" x="891" y="2301.8">a1</text>
<circle class="c" cx="891" cy="2357.5" r="21"/>
<circle class="c" cx="891" cy="2423.5" r="21"/>
<circle class="c k1" cx="891" cy="2489.5" r="21"/><text class="lb s27" x="891" y="2498.8">d1</text>
<circle class="c" cx="891" cy="2555" r="21"/>
</g>
<g id="c-col-b1">
<rect class="cbox" x="951.5" y="2149" width="96.2" height="353.5"/>
<rect class="dash" x="969.6" y="2161.4" width="67.4" height="196.5"/>
<circle class="c" cx="1001" cy="2193.6" r="21"/>
<circle class="c g1" cx="1001" cy="2259.4" r="21"/><text class="lb s27" x="1001" y="2268.7">b1</text>
<circle class="c" cx="1001" cy="2325.2" r="21"/>
<circle class="c" cx="1001" cy="2391" r="21"/>
<circle class="c g1" cx="1001" cy="2456.8" r="21"/><text class="lb s27" x="1001" y="2466.1">e1</text>
<circle class="dot" cx="974.4" cy="2550.7" r="4.5"/><circle class="dot" cx="987.6" cy="2540" r="4.5"/><circle class="dot" cx="999.6" cy="2529.3" r="4.5"/>
</g>
<g id="c-mat-1">
<text class="sh" x="1189.7" y="2210.4">Shot 1</text>
<text class="sh" x="1482.5" y="2210.4">Shot <tspan class="it">J</tspan></text>
<use href="#braceS" x="1252.2" y="2223"/>
<use href="#braceS" x="1545.6" y="2223"/>
<path class="br" d="M1172.8,2283 H1147.6 V2465 H1172.8"/>
<path class="br" d="M1631.6,2283 H1654 V2465 H1631.6"/>
<use href="#g33" x="1194" y="2305.7"/>
<use href="#g33" x="1490.3" y="2305.7"/>
<circle class="c k1" cx="1194" cy="2305.7" r="20.5"/><text class="lb s27" x="1194" y="2315">a1</text>
<circle class="c k1" cx="1312.3" cy="2372" r="20.5"/><text class="lb s27" x="1312.3" y="2381.3">d1</text>
<circle class="c k1" cx="1253" cy="2437" r="20.5"/><text class="lb s27" x="1253" y="2446.3">d1</text>
<circle class="c g1" cx="1549.3" cy="2305.7" r="20.5"/><text class="lb s27" x="1549.3" y="2315">b1</text>
<circle class="c g1" cx="1490.3" cy="2372" r="20.5"/><text class="lb s27" x="1490.3" y="2381.3">b1</text>
<circle class="c g1" cx="1608.6" cy="2437" r="20.5"/><text class="lb s27" x="1608.6" y="2446.3">e1</text>
<circle class="dot" cx="1366.5" cy="2372" r="4.5"/><circle class="dot" cx="1395.3" cy="2372" r="4.5"/><circle class="dot" cx="1423.6" cy="2372" r="4.5"/>
<text class="cal" x="1290" y="2544" font-size="52">ℋ</text>
<text class="t" x="1358" y="2511" font-size="32">1D</text>
<text class="t" x="1350" y="2560" font-size="30">1</text>
<text class="t" x="1408" y="2548" font-size="72">(</text>
<text class="t bd" x="1434" y="2541" font-size="58">X</text>
<text class="t" x="1484" y="2548" font-size="72">)</text>
</g>
<g id="c-vdots">
<circle class="dot" cx="1105.5" cy="2616" r="5"/><circle class="dot" cx="1105.5" cy="2638" r="5"/><circle class="dot" cx="1105.5" cy="2660" r="5"/>
</g>
<g id="c-col-a5">
<rect class="cbox" x="837.3" y="2751" width="96.2" height="352.6"/>
<rect class="dash" x="853" y="2764.6" width="67" height="194.4"/>
<circle class="c k5" cx="886.5" cy="2795" r="21"/><text class="lb s27" x="886.5" y="2804.3">a5</text>
<circle class="c" cx="886.5" cy="2861" r="21"/>
<circle class="c" cx="886.5" cy="2927" r="21"/>
<circle class="c k5" cx="886.5" cy="2993" r="21"/><text class="lb s27" x="886.5" y="3002.3">d5</text>
<circle class="c" cx="886.5" cy="3059" r="21"/>
</g>
<g id="c-col-b5">
<rect class="cbox" x="947.3" y="2653.8" width="95" height="352"/>
<rect class="dash" x="962.4" y="2664.8" width="67.3" height="194.8"/>
<circle class="c" cx="996" cy="2697" r="21"/>
<circle class="c g5" cx="996" cy="2763" r="21"/><text class="lb s27" x="996" y="2772.3">b5</text>
<circle class="c" cx="996" cy="2829" r="21"/>
<circle class="c" cx="996" cy="2895" r="21"/>
<circle class="c g5" cx="996" cy="2961" r="21"/><text class="lb s27" x="996" y="2970.3">e5</text>
<circle class="dot" cx="968.4" cy="3054" r="4.5"/><circle class="dot" cx="980.4" cy="3043.4" r="4.5"/><circle class="dot" cx="993.6" cy="3032.2" r="4.5"/>
</g>
<g id="c-mat-M">
<text class="sh" x="1183.6" y="2751.6">Shot 1</text>
<text class="sh" x="1477.7" y="2751.6">Shot <tspan class="it">J</tspan></text>
<use href="#braceS" x="1246.8" y="2764.6"/>
<use href="#braceS" x="1540.8" y="2764.6"/>
<path class="br" d="M1168,2825 H1141.5 V3005.7 H1168"/>
<path class="br" d="M1626.8,2825 H1650.9 V3005.7 H1626.8"/>
<use href="#g33" x="1189.7" y="2846.6"/>
<use href="#g33" x="1485.5" y="2846.6"/>
<circle class="c k5" cx="1189.7" cy="2846.6" r="20.5"/><text class="lb s27" x="1189.7" y="2855.9">a5</text>
<circle class="c k5" cx="1308" cy="2912.9" r="20.5"/><text class="lb s27" x="1308" y="2922.2">d5</text>
<circle class="c k5" cx="1248.7" cy="2977.9" r="20.5"/><text class="lb s27" x="1248.7" y="2987.2">d5</text>
<circle class="c g5" cx="1544.5" cy="2846.6" r="20.5"/><text class="lb s27" x="1544.5" y="2855.9">b5</text>
<circle class="c g5" cx="1485.5" cy="2912.9" r="20.5"/><text class="lb s27" x="1485.5" y="2922.2">b5</text>
<circle class="c g5" cx="1603.8" cy="2977.9" r="20.5"/><text class="lb s27" x="1603.8" y="2987.2">e5</text>
<circle class="dot" cx="1362.2" cy="2913" r="4.5"/><circle class="dot" cx="1389.3" cy="2913" r="4.5"/><circle class="dot" cx="1417.6" cy="2913" r="4.5"/>
<text class="cal" x="1289" y="3080" font-size="52">ℋ</text>
<text class="t" x="1358" y="3046" font-size="32">1D</text>
<text class="t it" x="1350" y="3099" font-size="30">M</text>
<text class="t" x="1408" y="3084" font-size="72">(</text>
<text class="t bd" x="1431" y="3076" font-size="58">X</text>
<text class="t" x="1482" y="3084" font-size="72">)</text>
</g>
<text class="pl" x="862" y="3268">(c)</text>

<!-- ===== connectors ===== -->
<g id="connectors">
<path class="ln" stroke-width="8" d="M585,377 H636"/>
<polygon points="632,363 660,377 632,391" fill="#000"/>
<text class="cal" x="589" y="325" font-size="48">ℋ</text>
<path class="ln" stroke-width="6" d="M510,1047 H572"/>
<polygon points="568,1036 589,1047 568,1058" fill="#000"/>
<path class="ln" stroke-width="6" d="M510,1643 H572"/>
<polygon points="568,1632 589,1643 568,1654" fill="#000"/>
<path class="br" d="M1252.5,1134.4 H1296 V1607 H1252.5"/>
<path class="ln" stroke-width="6" d="M1255,1355.6 H1316"/>
<polygon points="1312,1346 1332,1355.6 1312,1365" fill="#000"/>
<path class="br" d="M826.6,2353.8 H733 V2956.5 H826.6 M706,2656.8 H826.6"/>
<path class="ln" stroke-width="6" d="M1055.6,2374.6 H1115"/>
<polygon points="1112,2364 1133.7,2374.6 1112,2385" fill="#000"/>
<path class="ln" stroke-width="6" d="M1051.4,2927.6 H1111"/>
<polygon points="1108,2917 1129.5,2927.6 1108,2938" fill="#000"/>
</g>
</svg>
